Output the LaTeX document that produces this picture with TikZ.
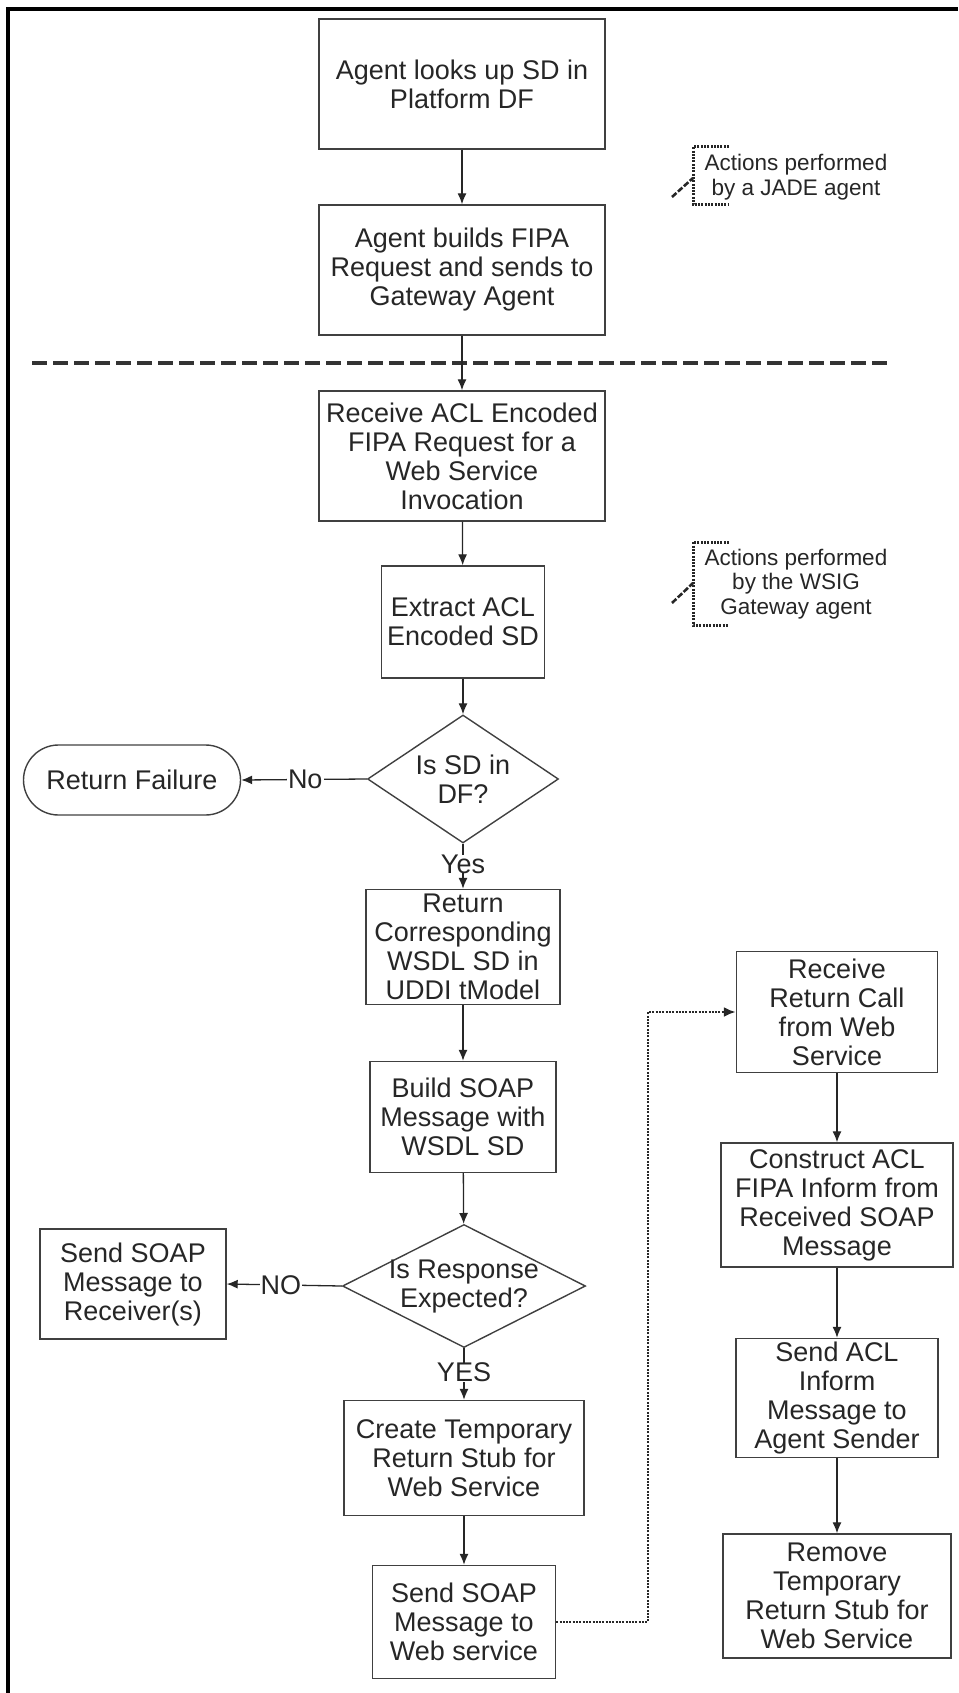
\documentclass[tikz,border=0pt]{standalone}
\usepackage{fontspec}
\setmainfont{Liberation Sans}
\usetikzlibrary{shapes.geometric,shapes.misc,arrows.meta}
\begin{document}
\begin{tikzpicture}[x=1pt,y=-1pt,
  txt/.style={font=\fontsize{27}{29}\selectfont, text=black!85, align=center},
  stepbox/.style={txt, draw=black!75, line width=1.4pt, rectangle, inner sep=0pt},
  decide/.style={draw=black!75, line width=1.4pt, diamond, inner sep=0pt},
  term/.style={txt, draw=black!75, line width=1.4pt, rounded rectangle, inner sep=0pt},
  flow/.style={draw=black!85, line width=1.3pt, -{Latex[length=11pt,width=9pt]}},
  lbl/.style={txt, fill=white, inner sep=1pt},
  note/.style={font=\fontsize{22.5}{24.5}\selectfont, text=black!85, align=center},
  brk/.style={draw=black!85, line width=3pt, dash pattern=on 2pt off 1.3pt},
  lead/.style={draw=black!85, line width=2.6pt, dash pattern=on 6pt off 2pt},
  dotflow/.style={draw=black!85, line width=2.4pt, dash pattern=on 2pt off 1.3pt, -{Latex[length=12pt,width=10pt]}},
]
\useasboundingbox (0,0) rectangle (958,1693);
% frame
\draw[line width=3.2pt, black] (8,1693) -- (8,9) -- (958,9);

% main column
\node[stepbox, minimum width=286, minimum height=130] (b1) at (462,84) {Agent looks up SD in\\Platform DF};
\node[stepbox, minimum width=286, minimum height=130] (b2) at (462,270) {Agent builds FIPA\\Request and sends to\\Gateway Agent};
\node[stepbox, minimum width=286, minimum height=130] (b3) at (462,456) {Receive ACL Encoded\\FIPA Request for a\\Web Service\\Invocation};
\node[stepbox, minimum width=163, minimum height=112] (b4) at (463,622) {Extract ACL\\Encoded SD};
\node[decide, minimum width=191, minimum height=128, label={[txt]center:Is SD in\\DF?}] (d1) at (463,779) {};
\node[term, minimum width=217, minimum height=70] (rf) at (132,780) {Return Failure};
\node[stepbox, minimum width=194, minimum height=115] (b5) at (463,947) {Return\\Corresponding\\WSDL SD in\\UDDI tModel};
\node[stepbox, minimum width=186, minimum height=111] (b6) at (463,1117) {Build SOAP\\Message with\\WSDL SD};
\node[decide, minimum width=243, minimum height=123, label={[txt]center:Is Response\\Expected?}] (d2) at (464,1286) {};
\node[stepbox, minimum width=186, minimum height=110] (sr) at (133,1284) {Send SOAP\\Message to\\Receiver(s)};
\node[stepbox, minimum width=240, minimum height=115] (b7) at (464,1458) {Create Temporary\\Return Stub for\\Web Service};
\node[stepbox, minimum width=183, minimum height=113] (b8) at (464,1622) {Send SOAP\\Message to\\Web service};

% right column
\node[stepbox, minimum width=201, minimum height=121] (r1) at (837,1012) {Receive\\Return Call\\from Web\\Service};
\node[stepbox, minimum width=232, minimum height=124] (r2) at (837,1205) {Construct ACL\\FIPA Inform from\\Received SOAP\\Message};
\node[stepbox, minimum width=202, minimum height=119] (r3) at (837,1398) {Send ACL\\Inform\\Message to\\Agent Sender};
\node[stepbox, minimum width=228, minimum height=124] (r4) at (837,1596) {Remove\\Temporary\\Return Stub for\\Web Service};

% dashed separator
\draw[line width=3.2pt, black!80, dash pattern=on 15pt off 6pt] (32,363) -- (891,363);

% connectors
\draw[flow] (b1) -- (b2);
\draw[flow] (b2) -- (b3);
\draw[flow] (b3) -- (b4);
\draw[flow] (b4) -- (d1);
\draw[flow] (d1.west) -- (rf.east) node[lbl, pos=0.49] {No};
\draw[flow] (d1.south) -- (b5.north) node[lbl, pos=0.45, inner sep=0pt] {Yes};
\draw[flow] (b5) -- (b6);
\draw[flow] (b6) -- (d2);
\draw[flow] (d2.west) -- (sr.east) node[lbl, pos=0.53] {NO};
\draw[flow] (d2.south) -- (b7.north) node[lbl, pos=0.47, inner sep=0pt] {YES};
\draw[flow] (b7) -- (b8);
\coordinate (c1) at (648,1622);
\coordinate (c2) at (648,1012);
\draw[dotflow] (b8.east) -- (c1) -- (c2) -- (r1.west);
\draw[flow] (r1) -- (r2);
\draw[flow] (r2) -- (r3);
\draw[flow] (r3) -- (r4);

% annotations
\draw[brk] (729,147) -- (693,147) -- (693,205) -- (729,205);
\draw[lead] (672,197) -- (693,178);
\node[note] (n1) at (796,177) {Actions performed\\by a JADE agent};
\draw[brk] (729,542) -- (693,542) -- (693,625) -- (729,625);
\draw[lead] (672,603) -- (693,583);
\node[note] (n2) at (796,584) {Actions performed\\by the WSIG\\Gateway agent};
\end{tikzpicture}
\end{document}
